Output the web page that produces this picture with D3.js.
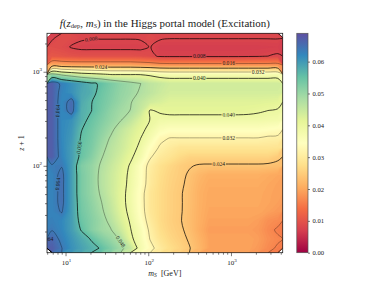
<!DOCTYPE html>
<html><head><meta charset="utf-8">
<script src="https://cdn.jsdelivr.net/npm/d3@7/dist/d3.min.js"></script>
<style>
html,body{margin:0;padding:0;background:#fff;}
svg{display:block;}
text{font-family:"Liberation Serif","DejaVu Serif",serif;fill:#1a1a1a;}
</style></head><body>
<svg id="chart" width="379" height="284"></svg>
<script>
// ---------- data ----------
const mRange = [5.97, 4220];          // m_S [GeV], axis extent
const zRange = [11.9, 2565];          // z+1, axis extent
const fMax = 0.0689;                  // colour-scale maximum
const contourLevels = [0.008, 0.016, 0.024, 0.032, 0.040, 0.048, 0.056, 0.064];
const cbarTicks = [0, 0.01, 0.02, 0.03, 0.04, 0.05, 0.06];
const xMajor = [10, 100, 1000];
const yMajor = [100, 1000];
const xMinor = [6,7,8,9,20,30,40,50,60,70,80,90,200,300,400,500,600,700,800,900,2000,3000,4000];
const yMinor = [20,30,40,50,60,70,80,90,200,300,400,500,600,700,800,900,2000];
// f(z_dep, m_S) on a log-spaced grid: rows from highest z+1 (top) to lowest, columns from lowest m_S
const fRows = [
 [0.0075,0.0092,0.0088,0.0083,0.0081,0.0081,0.0081,0.0081,0.0081,0.0082,0.0086,0.0083,0.0081,0.0081,0.0081,0.0081,0.0081,0.0081,0.0081,0.0081,0.0081,0.0081,0.0081,0.0081],
 [0.0092,0.0088,0.0078,0.0074,0.0074,0.0074,0.0074,0.0074,0.0074,0.0074,0.0081,0.0070,0.0070,0.0070,0.0070,0.0070,0.0070,0.0070,0.0070,0.0070,0.0070,0.0070,0.0071,0.0072],
 [0.0105,0.0102,0.0098,0.0095,0.0095,0.0095,0.0095,0.0095,0.0095,0.0093,0.0088,0.0076,0.0075,0.0075,0.0075,0.0075,0.0075,0.0075,0.0075,0.0075,0.0076,0.0077,0.0080,0.0083],
 [0.021,0.0205,0.020,0.020,0.020,0.020,0.020,0.020,0.020,0.0195,0.019,0.0182,0.018,0.018,0.018,0.018,0.018,0.018,0.018,0.018,0.018,0.018,0.018,0.018],
 [0.050,0.047,0.045,0.043,0.042,0.041,0.0398,0.0398,0.0398,0.0398,0.039,0.0375,0.037,0.037,0.037,0.037,0.037,0.037,0.037,0.037,0.037,0.037,0.037,0.037],
 [0.067,0.063,0.061,0.059,0.057,0.0553,0.053,0.051,0.0495,0.0481,0.046,0.045,0.044,0.044,0.044,0.044,0.044,0.044,0.044,0.044,0.044,0.044,0.044,0.044],
 [0.067,0.0625,0.061,0.0585,0.0575,0.0545,0.0525,0.0505,0.0493,0.0475,0.046,0.0445,0.0435,0.0435,0.0435,0.0435,0.0435,0.0435,0.0435,0.0435,0.0435,0.0435,0.0435,0.0435],
 [0.067,0.062,0.0655,0.058,0.0562,0.054,0.052,0.050,0.0483,0.046,0.044,0.043,0.042,0.042,0.042,0.042,0.042,0.042,0.042,0.042,0.042,0.042,0.0418,0.0415],
 [0.067,0.062,0.0655,0.0575,0.0561,0.0535,0.051,0.049,0.0479,0.045,0.0395,0.0405,0.0412,0.0412,0.0412,0.0412,0.0412,0.0412,0.0412,0.0412,0.041,0.0405,0.0399,0.0395],
 [0.067,0.062,0.061,0.0574,0.0548,0.0525,0.0503,0.0482,0.0458,0.0425,0.0399,0.0385,0.0383,0.0383,0.0383,0.0383,0.0383,0.0383,0.0383,0.0383,0.0383,0.0383,0.038,0.0378],
 [0.067,0.062,0.0605,0.0562,0.054,0.0515,0.049,0.0459,0.0435,0.0412,0.0388,0.036,0.035,0.035,0.035,0.035,0.035,0.035,0.035,0.035,0.035,0.035,0.0345,0.034],
 [0.067,0.062,0.060,0.0555,0.0535,0.0505,0.0475,0.045,0.0425,0.0401,0.037,0.033,0.0318,0.0318,0.0318,0.0318,0.0318,0.0318,0.0318,0.0318,0.0318,0.0318,0.0312,0.031],
 [0.067,0.0622,0.0595,0.055,0.053,0.0495,0.0465,0.0445,0.042,0.039,0.0345,0.0315,0.030,0.0288,0.0288,0.0288,0.0288,0.0288,0.0288,0.0288,0.0288,0.0288,0.0288,0.0285],
 [0.067,0.0625,0.0595,0.0548,0.052,0.0484,0.046,0.0435,0.0408,0.0378,0.0325,0.0298,0.0285,0.027,0.026,0.026,0.026,0.026,0.026,0.026,0.026,0.026,0.026,0.0248],
 [0.0635,0.0638,0.0595,0.0525,0.0505,0.0475,0.045,0.0425,0.0395,0.035,0.0305,0.028,0.0265,0.0252,0.0243,0.0236,0.0235,0.0235,0.0235,0.0235,0.0235,0.0235,0.0233,0.023],
 [0.0625,0.065,0.0595,0.053,0.0505,0.047,0.0445,0.042,0.039,0.035,0.030,0.0275,0.026,0.025,0.0235,0.022,0.021,0.021,0.021,0.021,0.021,0.021,0.0205,0.020],
 [0.0625,0.065,0.0595,0.053,0.0505,0.047,0.0445,0.0418,0.0388,0.0348,0.0298,0.0272,0.0258,0.0247,0.0232,0.0215,0.0205,0.0205,0.0205,0.0205,0.0205,0.0205,0.020,0.0195],
 [0.0625,0.065,0.0595,0.053,0.0505,0.0475,0.0445,0.0415,0.0385,0.034,0.029,0.027,0.0256,0.0244,0.023,0.0212,0.0202,0.0202,0.0202,0.0202,0.0202,0.0202,0.0198,0.0193],
 [0.0625,0.065,0.0595,0.0535,0.051,0.0482,0.0452,0.0415,0.0385,0.034,0.029,0.027,0.0256,0.0244,0.023,0.0212,0.0201,0.0201,0.0201,0.0201,0.0201,0.0201,0.0197,0.0192],
 [0.0625,0.0643,0.0595,0.0538,0.0515,0.0488,0.0458,0.042,0.0388,0.0342,0.0292,0.027,0.0256,0.0244,0.0229,0.0211,0.0199,0.0199,0.0199,0.0199,0.0199,0.0199,0.0193,0.0185],
 [0.063,0.062,0.0595,0.0545,0.052,0.0497,0.0468,0.043,0.0395,0.035,0.030,0.027,0.0255,0.0243,0.0228,0.021,0.0195,0.0195,0.0195,0.0195,0.0195,0.019,0.0175,0.017],
 [0.0638,0.0622,0.0595,0.0557,0.052,0.0495,0.0482,0.0445,0.0402,0.0365,0.031,0.0275,0.0258,0.0247,0.023,0.0208,0.019,0.019,0.019,0.019,0.019,0.0185,0.017,0.0155],
 [0.066,0.063,0.0605,0.058,0.0557,0.0525,0.050,0.0475,0.0412,0.037,0.0318,0.0285,0.0265,0.0252,0.0236,0.0215,0.0195,0.0195,0.0195,0.0195,0.0195,0.019,0.0175,0.0165],
 [0.067,0.0641,0.061,0.059,0.0572,0.0557,0.0525,0.0492,0.0455,0.0375,0.0335,0.030,0.0275,0.026,0.0242,0.022,0.0195,0.0195,0.0195,0.0195,0.0195,0.0185,0.017,0.0155]
];
// inline contour labels (level, approximate m_S, z+1 where they sit)
const labelLevel = [0.008, 0.008, 0.016, 0.024, 0.032, 0.040, 0.040, 0.032, 0.024, 0.048, 0.056, 0.064, 0.064, 0.064];
const labelM     = [18.2, 459, 1057, 26.1, 2436, 399, 895, 973, 736, 48.2, 13.8, 6.5, 8.3, 6.5];
const labelZ     = [2455, 1433, 1178, 1103, 993, 879, 364, 202, 102, 15.4, 154, 421, 62, 17.4];

// ---------- layout ----------
const svg = d3.select('#chart');
const L = 47, R = 282.7, T = 33.3, B = 252.7;
const CB = {x0: 296.8, x1: 308};
const x = d3.scaleLog().domain(mRange).range([L, R]);
const y = d3.scaleLog().domain(zRange).range([B, T]);
const cy = d3.scaleLinear().domain([0, fMax]).range([B, T]);
const color = d3.scaleLinear()
  .domain(d3.range(11).map(i => i / 10 * fMax))
  .range(d3.schemeSpectral[11]).clamp(true);

const ny = fRows.length, nx = fRows[0].length;
const values = fRows.flat();
const lx0 = Math.log10(mRange[0]), lx1 = Math.log10(mRange[1]);
const lyT = Math.log10(zRange[1]), lyB = Math.log10(zRange[0]);
const gx = g => x(Math.pow(10, lx0 + g * (lx1 - lx0) / nx));
const gy = g => y(Math.pow(10, lyT - g * (lyT - lyB) / ny));
const proj = pts => pts.map(p => [gx(p[0]), gy(p[1])]);

const defs = svg.append('defs');
defs.append('clipPath').attr('id', 'plotclip').append('rect')
  .attr('x', L).attr('y', T).attr('width', R - L).attr('height', B - T);

// ---------- heat map (filled fine bands from the grid) ----------
const step = 0.0004;
const fillTh = d3.range(0, fMax, step);
const fills = d3.contours().size([nx, ny]).thresholds(fillTh)(values);
const heat = svg.append('g').attr('clip-path', 'url(#plotclip)');
heat.selectAll('path').data(fills).join('path')
  .attr('fill-rule', 'evenodd')
  .attr('d', mp => mp.coordinates.map(poly => poly.map(r => 'M' + proj(r).map(p => p[0].toFixed(2) + ',' + p[1].toFixed(2)).join('L') + 'Z').join('')).join(''))
  .attr('fill', d => color(d.value + step / 2));

// ---------- contour lines ----------
const lines = d3.contours().size([nx, ny]).thresholds(contourLevels)(values);
function onEdge(a, b) {
  return (a[0] === 0 && b[0] === 0) || (a[0] === nx && b[0] === nx) ||
         (a[1] === 0 && b[1] === 0) || (a[1] === ny && b[1] === ny);
}
function linePaths(mp) {
  const out = [];
  mp.coordinates.forEach(poly => poly.forEach(ring => {
    let cur = [];
    for (let i = 0; i < ring.length - 1; i++) {
      const a = ring[i], b = ring[i + 1];
      if (onEdge(a, b)) { if (cur.length > 1) out.push(cur); cur = []; }
      else { if (!cur.length) cur.push(a); cur.push(b); }
    }
    if (cur.length > 1) out.push(cur);
  }));
  return out.map(proj);
}
const levelPaths = lines.map(mp => ({value: mp.value, paths: linePaths(mp)}));

const mask = defs.append('mask').attr('id', 'lblmask').attr('maskUnits', 'userSpaceOnUse')
  .attr('x', 0).attr('y', 0).attr('width', 379).attr('height', 284);
mask.append('rect').attr('x', 0).attr('y', 0).attr('width', 379).attr('height', 284).attr('fill', '#fff');

const cl = svg.append('g').attr('clip-path', 'url(#plotclip)');
const clLines = cl.append('g').attr('mask', 'url(#lblmask)').attr('fill', 'none');
const smoothLine = d3.line().curve(d3.curveCatmullRom.alpha(0.5));
levelPaths.forEach((lp, i) => {
  const dark = i % 2 === 0;
  lp.paths.forEach(p => {
    clLines.append('path').attr('d', smoothLine(p))
      .attr('stroke', '#000').attr('stroke-opacity', dark ? 0.85 : 0.42)
      .attr('stroke-width', dark ? 0.85 : 0.75).attr('stroke-linejoin', 'round');
  });
});

// labels
const fmt = d3.format('.3f');
const lblG = cl.append('g');
labelLevel.forEach((lev, k) => {
  const lp = levelPaths.find(d => Math.abs(d.value - lev) < 1e-9);
  if (!lp) return;
  const tx = x(labelM[k]), ty = y(labelZ[k]);
  let best = null, bd = Infinity;
  lp.paths.forEach(p => p.forEach((pt, i) => {
    const d = (pt[0] - tx) ** 2 + (pt[1] - ty) ** 2;
    if (d < bd) { bd = d; best = {p, i}; }
  }));
  if (!best) return;
  const p = best.p, i = best.i;
  const a = p[Math.max(0, i - 2)], b = p[Math.min(p.length - 1, i + 2)];
  let ang = Math.atan2(b[1] - a[1], b[0] - a[0]) * 180 / Math.PI;
  if (ang > 90) ang -= 180; if (ang <= -90) ang += 180;
  const [px, py] = p[i];
  const t = lblG.append('text').attr('transform', `translate(${px},${py}) rotate(${ang})`)
    .attr('text-anchor', 'middle').attr('dy', '0.33em').attr('font-size', 5.6).text(fmt(lev));
  const w = t.node().getComputedTextLength() + 1.6;
  mask.append('rect').attr('x', -w / 2).attr('y', -2.4).attr('width', w).attr('height', 4.8)
    .attr('transform', `translate(${px},${py}) rotate(${ang})`).attr('fill', '#000');
});

// ---------- frame & axes ----------
svg.append('rect').attr('x', L).attr('y', T).attr('width', R - L).attr('height', B - T)
  .attr('fill', 'none').attr('stroke', '#222').attr('stroke-width', 0.8);

function styleAxis(g) { g.select('.domain').remove(); g.selectAll('line').attr('stroke', '#222').attr('stroke-width', 0.6); }
svg.append('g').attr('transform', `translate(0,${B})`)
  .call(d3.axisBottom(x).tickValues(xMajor).tickSize(3.5).tickFormat('')).call(styleAxis);
svg.append('g').attr('transform', `translate(0,${B})`)
  .call(d3.axisBottom(x).tickValues(xMinor).tickSize(2).tickFormat('')).call(styleAxis);
svg.append('g').attr('transform', `translate(${L},0)`)
  .call(d3.axisLeft(y).tickValues(yMajor).tickSize(3.5).tickFormat('')).call(styleAxis);
svg.append('g').attr('transform', `translate(${L},0)`)
  .call(d3.axisLeft(y).tickValues(yMinor).tickSize(2).tickFormat('')).call(styleAxis);

function powLabel(sel, v) {
  sel.append('tspan').text('10');
  sel.append('tspan').attr('dy', -3.2).attr('font-size', 5).text(Math.round(Math.log10(v)));
}
xMajor.forEach(v => {
  const t = svg.append('text').attr('x', x(v) + 1).attr('y', 265).attr('text-anchor', 'middle').attr('font-size', 7);
  powLabel(t, v);
});
yMajor.forEach(v => {
  const t = svg.append('text').attr('x', 42).attr('y', y(v) + 2.6).attr('text-anchor', 'end').attr('font-size', 7);
  powLabel(t, v);
});

// axis titles
const xl = svg.append('text').attr('x', (L + R) / 2).attr('y', 275.5).attr('text-anchor', 'middle').attr('font-size', 8);
xl.append('tspan').attr('font-style', 'italic').text('m');
xl.append('tspan').attr('font-style', 'italic').attr('font-size', 5.6).attr('dy', 1.6).text('S');
xl.append('tspan').attr('dy', -1.6).text('\u2002[GeV]');

const yl = svg.append('text').attr('transform', 'translate(23.5,143) rotate(-90)').attr('text-anchor', 'middle').attr('font-size', 8);
yl.append('tspan').attr('font-style', 'italic').text('z');
yl.append('tspan').text(' + 1');

// title
const tt = svg.append('text').attr('x', (L + R) / 2).attr('y', 26.5).attr('text-anchor', 'middle').attr('font-size', 9.6);
tt.append('tspan').attr('font-style', 'italic').text('f');
tt.append('tspan').text('(');
tt.append('tspan').attr('font-style', 'italic').text('z');
tt.append('tspan').attr('font-size', 6.6).attr('dy', 1.8).text('dep');
tt.append('tspan').attr('dy', -1.8).text(', ');
tt.append('tspan').attr('font-style', 'italic').text('m');
tt.append('tspan').attr('font-style', 'italic').attr('font-size', 6.6).attr('dy', 1.8).text('S');
tt.append('tspan').attr('dy', -1.8).text(') in the Higgs portal model (Excitation)');
const tw = tt.node().getComputedTextLength();
tt.attr('font-size', 9.6 * 212 / tw);

// ---------- colour bar ----------
const grad = defs.append('linearGradient').attr('id', 'cbgrad').attr('x1', 0).attr('y1', 1).attr('x2', 0).attr('y2', 0);
d3.range(0, 1.0001, 0.05).forEach(t => grad.append('stop').attr('offset', t).attr('stop-color', color(t * fMax)));
svg.append('rect').attr('x', CB.x0).attr('y', T).attr('width', CB.x1 - CB.x0).attr('height', B - T)
  .attr('fill', 'url(#cbgrad)').attr('stroke', '#555').attr('stroke-width', 0.7);
const cbAx = svg.append('g').attr('transform', `translate(${CB.x1},0)`)
  .call(d3.axisRight(cy).tickValues(cbarTicks).tickSize(2).tickFormat(d3.format('.2f')));
cbAx.select('.domain').remove();
cbAx.selectAll('line').attr('stroke', '#222').attr('stroke-width', 0.6);
cbAx.selectAll('text').attr('font-size', 6.6).attr('x', 4.5).attr('font-family', '"Liberation Serif","DejaVu Serif",serif').attr('fill', '#1a1a1a');
</script></body></html>
